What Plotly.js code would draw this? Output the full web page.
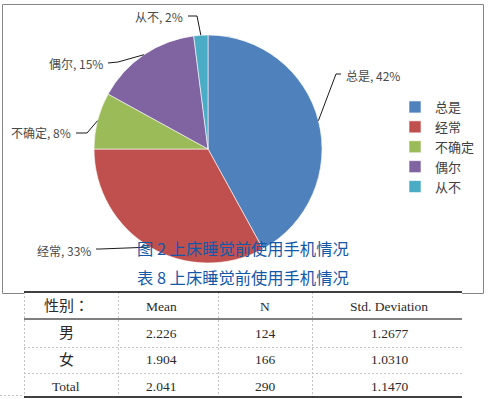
<!DOCTYPE html>
<html>
<head>
<meta charset="utf-8">
<script src="https://cdn.plot.ly/plotly-3.0.1.min.js"></script>
<style>html,body{margin:0;padding:0;background:#fff;}#chart{width:496px;height:399px;}</style>
</head>
<body>
<div id="chart"></div>
<script>
// ---- data ----
var categories = ['总是', '经常', '不确定', '偶尔', '从不'];
var percents = [42, 33, 8, 15, 2];
var sliceColors = ['#4F81BD', '#C0504D', '#9BBB59', '#8064A2', '#4BACC6'];
var figCaption = '图 2 上床睡觉前使用手机情况';
var tableCaption = '表 8 上床睡觉前使用手机情况';
var tableHeader = ['性别：', 'Mean', 'N', 'Std. Deviation'];
var genders = ['男', '女', 'Total'];
var means = ['2.226', '1.904', '2.041'];
var counts = ['124', '166', '290'];
var stdDevs = ['1.2677', '1.0310', '1.1470'];

// ---- layout constants (pixels) ----
var W = 496, H = 399;
function px(x) { return x / W; }
function py(y) { return 1 - y / H; }
var cx = 208, cy = 149, R = 114;

// label placement (style): elbow point, line end, text anchor
var labelLayout = [
  {elbow: [336, 74], end: [341, 74], tx: 344, ty: 75, anchor: 'left'},
  {elbow: [100, 249], end: [96, 249], tx: 93, ty: 250, anchor: 'right'},
  {elbow: [87, 133], end: [76, 133], tx: 73, ty: 133, anchor: 'right'},
  {elbow: [118, 62], end: [108, 63], tx: 105, ty: 63, anchor: 'right'},
  {elbow: [197, 16], end: [188, 16], tx: 185, ty: 17, anchor: 'right'}
];

var total = percents.reduce(function (a, b) { return a + b; }, 0);
var shapes = [];
var annotations = [];
var cum = 0;
percents.forEach(function (v, i) {
  var mid = (cum + v / 2) / total * 2 * Math.PI;
  cum += v;
  var ex = cx + R * Math.sin(mid), ey = cy - R * Math.cos(mid);
  var L = labelLayout[i];
  shapes.push({
    type: 'path', xref: 'paper', yref: 'paper', layer: 'above',
    path: 'M' + px(ex) + ',' + py(ey) + ' L' + px(L.elbow[0]) + ',' + py(L.elbow[1]) + ' L' + px(L.end[0]) + ',' + py(L.end[1]),
    line: {color: '#1a1a1a', width: 1}
  });
  annotations.push({
    xref: 'paper', yref: 'paper', x: px(L.tx), y: py(L.ty),
    xanchor: L.anchor, yanchor: 'middle', showarrow: false,
    text: categories[i] + ', ' + v + '%',
    font: {family: 'Noto Sans CJK SC, Noto Sans', size: 12, color: '#4a4a4a'}
  });
});

// chart border
shapes.unshift({
  type: 'rect', xref: 'paper', yref: 'paper', layer: 'below',
  x0: px(2.5), x1: px(483.5), y0: py(293.5), y1: py(4.5),
  line: {color: '#868686', width: 1}
});

// captions
[figCaption, tableCaption].forEach(function (t, i) {
  annotations.push({
    xref: 'paper', yref: 'paper', x: px(135), y: py(i === 0 ? 248 : 277),
    xanchor: 'left', yanchor: 'middle', showarrow: false, text: t,
    font: {family: 'Noto Sans CJK SC', size: 16.3, color: '#1458A8'}
  });
});

// ---- table (grid + cell texts) ----
var colEdges = [24, 118, 218, 312, 462];
var colCenters = [66, 161, 265, 389];
var rowEdges = [292, 319, 347, 373, 397];
var rowCenters = [306, 333, 359, 386];

// white backdrop covering the chart border under the table
shapes.push({type: 'rect', xref: 'paper', yref: 'paper', layer: 'above',
  x0: px(colEdges[0]), x1: px(colEdges[4]), y0: py(rowEdges[4]), y1: py(rowEdges[0]),
  fillcolor: '#ffffff', line: {width: 0}});
// dashed gray grid
colEdges.slice(0, 4).forEach(function (x) {
  shapes.push({type: 'line', xref: 'paper', yref: 'paper', layer: 'above',
    x0: px(x + 0.5), x1: px(x + 0.5), y0: py(rowEdges[0]), y1: py(rowEdges[4]),
    line: {color: '#c4c4c4', width: 1, dash: '2px,2px'}});
});
[rowEdges[2], rowEdges[3]].forEach(function (y) {
  shapes.push({type: 'line', xref: 'paper', yref: 'paper', layer: 'above',
    x0: px(colEdges[0]), x1: px(colEdges[4]), y0: py(y + 0.5), y1: py(y + 0.5),
    line: {color: '#c4c4c4', width: 1, dash: '2px,2px'}});
});
shapes.push({type: 'line', xref: 'paper', yref: 'paper', layer: 'above',
  x0: px(0), x1: px(colEdges[0]), y0: py(395.5), y1: py(395.5),
  line: {color: '#c4c4c4', width: 1, dash: '2px,2px'}});
// solid black rules
[[rowEdges[0], 1.6], [rowEdges[1], 1.2], [rowEdges[4], 1.6]].forEach(function (r) {
  shapes.push({type: 'line', xref: 'paper', yref: 'paper', layer: 'above',
    x0: px(colEdges[0]), x1: px(colEdges[4]), y0: py(r[0]), y1: py(r[0]),
    line: {color: '#000', width: r[1]}});
});

var serif = 'Liberation Serif, Noto Sans CJK TC';
var bodyCols = [genders, means, counts, stdDevs];
tableHeader.forEach(function (h, c) {
  annotations.push({xref: 'paper', yref: 'paper', x: px(colCenters[c]), y: py(rowCenters[0]),
    xanchor: 'center', yanchor: 'middle', showarrow: false, text: h,
    font: {family: serif, size: c === 0 ? 15 : 13.5, color: '#2a2a2a', weight: 'normal'}});
  bodyCols[c].forEach(function (v, r) {
    annotations.push({xref: 'paper', yref: 'paper', x: px(colCenters[c]), y: py(rowCenters[r + 1]),
      xanchor: 'center', yanchor: 'middle', showarrow: false, text: v,
      font: {family: serif, size: (c === 0 && r < 2) ? 15 : 13.5, color: '#2a2a2a', weight: 'normal'}});
  });
});

var data = [
  {
    type: 'pie',
    labels: categories,
    values: percents,
    sort: false,
    direction: 'clockwise',
    rotation: 0,
    textinfo: 'none',
    hoverinfo: 'label+percent',
    marker: {colors: sliceColors, line: {color: '#ffffff', width: 0.6}},
    domain: {x: [px(94), px(322)], y: [py(263), py(35)]}
  }
];

var layout = {
  width: W, height: H,
  margin: {l: 0, r: 0, t: 0, b: 0},
  paper_bgcolor: '#ffffff',
  showlegend: true,
  legend: {
    x: px(395), y: py(92), xanchor: 'left', yanchor: 'top',
    font: {family: 'Noto Sans CJK SC', size: 13, color: '#404040'},
    bgcolor: 'rgba(0,0,0,0)', traceorder: 'normal'
  },
  shapes: shapes,
  annotations: annotations
};

Plotly.newPlot('chart', data, layout, {displayModeBar: false, staticPlot: true});
</script>
</body>
</html>
